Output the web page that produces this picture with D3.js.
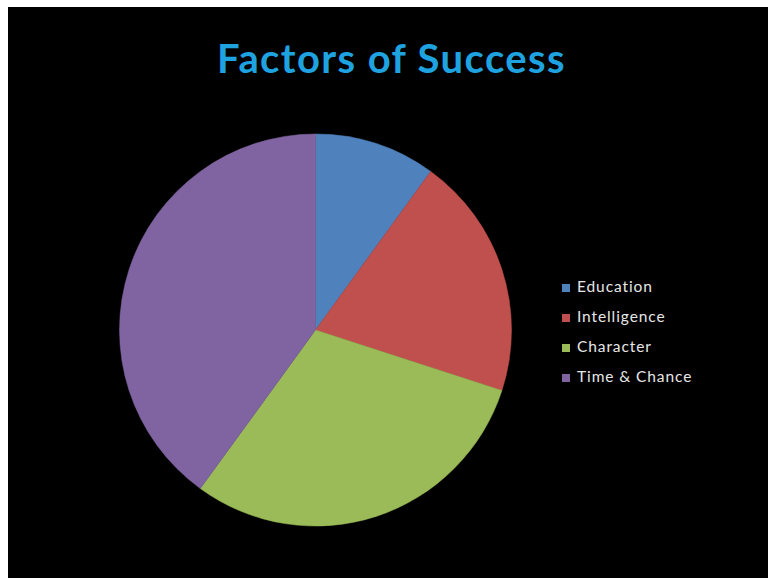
<!DOCTYPE html>
<html><head><meta charset="utf-8">
<script src="https://cdn.jsdelivr.net/npm/d3@7"></script>
<style>html,body{margin:0;padding:0;background:#fff;}svg{display:block;}</style>
</head><body>
<svg id="chart" width="768" height="578"></svg>
<script>
const title = "Factors of Success";
const categories = ["Education", "Intelligence", "Character", "Time & Chance"];
const values = [10, 20, 30, 40];
const colors = ["#4F81BD", "#C0504D", "#9BBB59", "#8064A2"];

const svg = d3.select("#chart");
svg.append("rect").attr("x", 8).attr("y", 7).attr("width", 760).attr("height", 571).attr("fill", "#000");

svg.append("text").attr("x", 391.5).attr("y", 73).attr("text-anchor", "middle")
  .attr("font-family", "Lato, 'Open Sans', sans-serif").attr("font-weight", "bold")
  .attr("font-size", 40).attr("letter-spacing", "1.4px").attr("fill", "#1FA3E0").text(title);

const cx = 315.5, cy = 330, r = 196;
const pie = d3.pie().sort(null).value(d => d);
const arc = d3.arc().innerRadius(0).outerRadius(r);
const color = d3.scaleOrdinal().domain(categories).range(colors);

svg.append("g").attr("transform", `translate(${cx},${cy})`)
  .selectAll("path").data(pie(values)).join("path")
  .attr("d", arc).attr("fill", (d, i) => color(categories[i]))
  .attr("stroke", (d, i) => color(categories[i])).attr("stroke-width", 0.5);

const legend = svg.append("g").attr("transform", "translate(562,284)");
const ly = d3.scalePoint().domain(categories).range([0, 90]);
const items = legend.selectAll("g").data(categories).join("g")
  .attr("transform", d => `translate(0,${ly(d)})`);
items.append("rect").attr("width", 8).attr("height", 8).attr("fill", d => color(d));
items.append("text").attr("x", 15).attr("y", 7.5).attr("font-family", "Lato, 'Open Sans', sans-serif")
  .attr("font-size", 15.5).attr("letter-spacing", "0.9px").attr("fill", "#e6e6e6").text(d => d);
</script>
</body></html>
